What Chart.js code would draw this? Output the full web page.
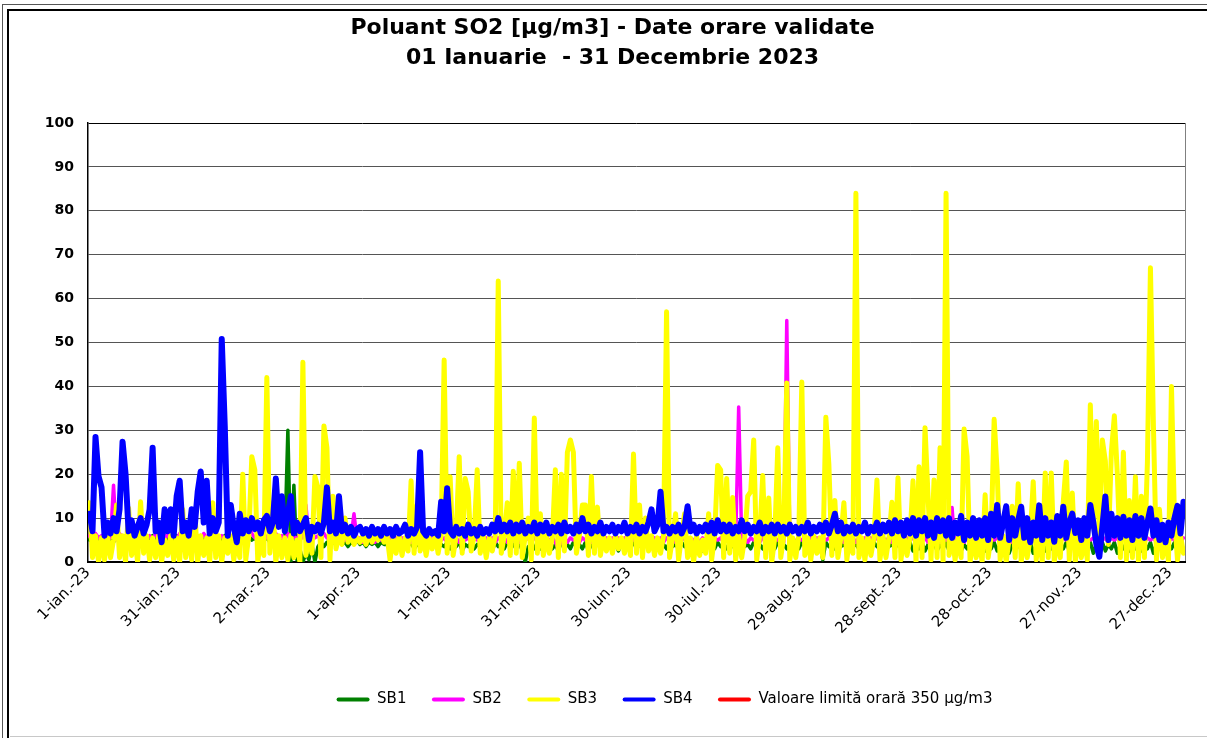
<!DOCTYPE html>
<html><head><meta charset="utf-8">
<script src="https://cdn.jsdelivr.net/npm/chart.js@4/dist/chart.umd.min.js"></script>
<style>
html,body{margin:0;padding:0;background:#fff;overflow:hidden;width:1207px;height:738px;}
#f1{position:absolute;left:2px;top:4px;width:1205px;height:734px;border-left:1px solid #555;border-top:1px solid #555;}
#f2{position:absolute;left:7px;top:9px;width:1200px;height:729px;border-left:2px solid #000;border-top:2px solid #000;}
#fb{position:absolute;left:10px;top:736px;width:1197px;height:1px;background:#c8c8c8;}
#wrap{position:absolute;left:0;top:0;width:1207px;height:738px;}
</style></head><body>
<div id="f1"></div><div id="f2"></div><div id="fb"></div>
<div id="wrap"><canvas id="c"></canvas></div>
<script>
// ---- tick labels (x axis: day of year -> label) ----
const xTickDays = [0,30,60,90,120,150,180,210,240,270,300,330,360];
const xTickLabels = ['1-ian.-23','31-ian.-23','2-mar.-23','1-apr.-23','1-mai-23','31-mai-23','30-iun.-23','30-iul.-23','29-aug.-23','28-sept.-23','28-oct.-23','27-nov.-23','27-dec.-23'];
const yTicks = [0,10,20,30,40,50,60,70,80,90,100];
const seriesNames = ['SB1','SB2','SB3','SB4','Valoare limită orară 350 µg/m3'];
const limitValue = 350;

// ---- daily values (day 0 = 1 Jan) ----
const sb1 = [
5,6,5,5.5,4.5,6,5,5.5,4.5,6,
5,5.5,4.5,6,5,5.5,4.5,6,5,5.5,
4.5,6,5,5.5,4.5,6,5,5.5,4.5,6,
5,5.5,4.5,6,5,5.5,4.5,6,5,5.5,
4.5,6,5,5.5,4.5,6,5,5.5,4.5,6,
5,5.5,4.5,6,5,5.5,4.5,6,5,5.5,
4.5,6,5,5.5,4.5,5,30,0,17.5,0.5,
3,0,2,0.5,4,0,3.5,4.5,3.5,4.5,
4,4.5,4,5,4,4.5,3.5,4.5,4,5,
4,4.5,3.5,4.5,4,4.5,3.5,4.5,4,4,
3,4.5,3.5,4.5,3,4,3.5,4.5,3,4,
3.5,4.5,3,4,3.5,4.5,3,4,3.5,4.5,
3,4,3.5,4.5,2.5,4,3.5,4.5,3,4,
3.5,4.5,3,4,2.5,4.5,3.5,4,3,4.5,
3.5,4,3,4.5,2.5,0,3.5,4,3,4.5,
3,4,3.5,4.5,3,4,2.5,4.5,3.5,4,
3,4.5,3.5,4,3,4.5,2.5,4,3.5,4.5,
3,4,3.5,4.5,3,4,2.5,4.5,3.5,4,
3,4.5,3.5,4,3,4.5,3.5,4,3,4.5,
3.5,4,3,4.5,3.5,4,3,4.5,3.5,4,
3,4.5,3.5,4,2.5,4.5,3.5,4,3,4.5,
3.5,4,3,4.5,3.5,4,3,4.5,3.5,4,
3,4.5,3.5,4,3,4.5,3.5,4,3,4.5,
3.5,4,3,4.5,3.5,4,3,4.5,3.5,4,
3,4.5,3.5,4,0.5,4.5,3.5,4,3,4.5,
3.5,4,3,4.5,3.5,4,3,4.5,3.5,4,
3,4.5,3.5,4,3,4.5,3.5,4,3,4.5,
3.5,4,3,4.5,2.5,4,3,4.5,2.5,4,
3,4.5,2.5,4,3,4.5,2.5,4,3,4.5,
2.5,4,3,4.5,2,4,3,4.5,2.5,4,
3,4.5,2.5,4,3,4.5,2,4,3,4.5,
2.5,4,3,4.5,2,4,3,4.5,2.5,4,
3,4.5,2,4,3,4.5,2.5,4,3,4.5,
2.5,4,3,4.5,2,4,1.5,4.5,2.5,4,
3,4.5,2,4,3,4.5,2.5,4,3,4.5,
2.5,4,3,4.5,2,4,3,4.5,2.5,4,
3,4.5,2.5,4,3];

const sb2 = [
6,5,6.5,5.5,6,5,6.5,5.5,17.5,5,
6.5,5.5,6,5,6.5,5.5,6,5,6.5,5.5,
6,5,6.5,5.5,6,5,6.5,5.5,6,5,
6.5,5.5,6,5,6.5,5.5,6,5,6.5,5.5,
6,5,6.5,5.5,6,5,6.5,5.5,6,5,
6.5,5.5,6,10.5,6.5,5.5,6,5,6.5,5.5,
6,5,6.5,5.5,6,5,6.5,5.5,6,5,
6.5,5.5,13,5,6.5,5.5,6,5,6.5,5.5,
6,5,6.5,5.5,6,5,6.5,5.5,11,5,
5.5,4.5,5.5,5,5.5,4.5,5.5,5,5.5,4.5,
5.5,5,5.5,4.5,5.5,5,5.5,4.5,5.5,5,
5.5,4.5,5.5,5,5.5,4.5,5.5,5,5.5,4.5,
5.5,5,5.5,4.5,5.5,5,5.5,4.5,5.5,5,
5.5,4.5,5.5,5,5.5,4.5,5.5,5,5.5,4.5,
5.5,5,5.5,4.5,5.5,5,5.5,4.5,5.5,5,
5.5,4.5,5.5,5,5.5,4.5,3,5,5.5,4.5,
5.5,5,5.5,4.5,5.5,5,5.5,4.5,5.5,5,
5.5,4.5,5.5,5,5.5,4.5,5.5,5,5.5,4.5,
5.5,5,5.5,4.5,5.5,5,5.5,4.5,5.5,5,
5.5,4.5,5.5,5,5.5,4.5,5.5,5,5.5,4.5,
5.5,5,5.5,4.5,5.5,5,5.5,4.5,5.5,5,
5.5,4.5,5.5,5,5.5,4.5,35.3,5,5.5,4.5,
5.5,5,5.5,4.5,5.5,5,5.5,4.5,5.5,5,
5.5,4.5,55,5,5.5,4.5,5.5,5,5.5,4.5,
5.5,5,5.5,4.5,5.5,5,5.5,4.5,5.5,5,
5.5,4.5,5.5,5,5.5,4.5,5.5,5,5.5,4.5,
5.5,5,5.5,4.5,5.5,5,5.5,4.5,5.5,5,
5.5,4.5,5.5,5,5.5,4.5,5.5,5,5.5,4.5,
5.5,5,5.5,4.5,5.5,5,5.5,12.4,2.5,5,
5.5,4.5,5.5,5,5.5,4.5,5.5,5,5.5,4.5,
5.5,5,5.5,4.5,5.5,5,5.5,4.5,5.5,5,
5.5,4.5,5.5,5,5.5,4.5,5.5,5,5.5,4.5,
5.5,5,5.5,4.5,5.5,5,5.5,4.5,5.5,5,
5.5,4.5,5.5,5,5.5,4.5,5.5,5,5.5,4.5,
5.5,5,5.5,4.5,5.5,5,5.5,4.5,5.5,5,
5.5,4.5,5.5,5,5.5,4.5,5.5,5,5.5,4.5,
5.5,5,5.5,4.5,5.5];

const sb3 = [
13.5,1,6,0,5.5,0.5,6,1,5,13,
1,6,0,12.3,1.5,6,0,13.7,2,6,
0.5,5.5,1,6,0,5,1.5,6,0.5,5.5,
0,12,1,6,0.5,12,0,6,1.5,5.5,
0,13.5,1,6,0,5.5,2,6,0.5,5,
1,20,0.5,6,24,21,0,6,1.5,42,
2,13.5,0,6,1,5.5,0.5,6,1,5,
0,45.5,1.5,6,2,19.5,17,1,31,26,
0.5,15,3,6,4,10,4.5,6,4,5.5,
4.5,6,4,6.5,4.5,6,5,6.5,4.5,6,
0.5,5.5,2,6,1.5,5.5,2.5,18.5,2,13,
2.5,6,1.5,5.5,3,6,2,6,46,2,
19.4,1.5,6,24,2,19,16,2.5,6,21,
2,6,1,5.5,2.5,6,64,2,6,13.5,
1.5,20.7,2,22.5,1,6,10,0.5,32.8,2,
11,1.5,6,2,5.5,21,1,20,2.5,25,
27.8,25,2,6,13,13,1.5,19.5,2,12.5,
1.5,6,2.5,5.5,2,6,3,5.5,2,6,
1.5,24.6,2,13,1,10,2.5,6,1.5,5.5,
2,6,57,1,5.5,11,0.5,6,11,1,
5.5,0,6,1.5,5,2,11,0.5,6,22,
21,1,19,2,14.7,0.5,6,1,5.5,15,
16,27.8,0.5,6,19.7,1,14.6,0,5.5,26,
1,6,40.8,0.5,5.5,1,6,41,1.5,5.5,
0.5,6,2,5.5,1,33,22.3,1.5,14,1,
5.5,13.5,0.5,6,2,84,1,5.5,0.5,6,
1.5,5.5,18.7,0.5,6,1,5.5,13.6,1,19.2,
0.5,6,1.5,5.5,18.5,0,21.7,1,30.6,15,
0.5,18.7,1,26,0,84,1.5,6,0.5,5.5,
1,30.3,24,0,6,1,5.5,0,15.3,1,
6,32.5,20.6,0.5,6,0,5.5,12.7,1,17.8,
0,6,1,5.5,18.3,0.5,6,0,20.3,1,
20.3,0,6,1,13.7,22.8,0.5,15.7,0,6,
1,5.5,0.5,35.8,8,32,5,27.8,23,4,
25,33.3,19.8,1,25,0.5,14,1,19.4,0,
15,1,22.8,67,30.8,0.5,12,1,6,0,
40,10,0.5,6,2];

const sb4 = [
11,7,28.5,19.5,17,6,9,6.5,10,7,
12,27.4,20,7,9.5,6,8,10,6.5,8.5,
12,26,7,9,4.5,12,7,12,6,15,
18.5,7,9,6,12,8,16,20.6,9,18.5,
6.5,10,7,9,50.8,31,6,13,8,4.5,
11,6.5,9.5,7,10,7.5,9,6.5,9.5,10.5,
7,9,19,8,15,7,11,15,6.5,9,
7,8.5,10,5,8,7,8.5,6.5,9,17,
7,9,6.5,15,7,8.5,6.5,8,6,7.5,
8,6.5,7.5,6,8,6.5,7.5,6,8,6.5,
7.5,6,8,6.5,7,8.5,6,7.5,6.5,8,
25,7,6,7.5,6.5,7,6,13.7,7,16.8,
7,6,8,6.5,7.5,6,8.5,6.5,7.5,6,
8,6.5,7.5,6.5,8.5,7,10,7,8.5,7,
9,6.5,8.5,7,9,6.5,8,7,9,6.5,
8.5,7,9,6.5,8,7,8.5,6.5,9,7,
8,6.5,8.5,7,10,7,8.5,6.5,8,7,
9,6.5,8,7,8.5,6.5,8,7,9,6.5,
8,7,8.5,6.5,8,7,9,12,7,8.5,
16,7,8,6.5,8,7,8.5,6.5,8,12.7,
7,8.5,6.5,8,7,8.5,7,9,6.5,9.5,
7,8.5,7,8.5,6.5,8,7,9.5,7,8.5,
6.5,8,7,9,6.5,8,7,8.5,6.5,8.5,
7,8,6.5,8.5,7,8,6.5,8,7,9,
6.5,8,7,8.5,7,9,6.5,8.5,11,7,
9,6.5,8,7,8.5,6.5,8,7,9,6.5,
8,7,9,6.5,8.5,7,9,6.5,9.5,7,
9,6,9.5,6.5,10,6,9.5,7,10,6,
9,5.5,10,7,9.5,6,10,5.5,9,6.5,
10.5,5,9,6,10,5.5,9.5,6,10,5,
11,6,13,5.5,9,12.7,5,10,6,9.5,
12.6,5.5,10,4.5,9,6,12.9,5,10,6,
9,4.6,10.5,6,12.6,5.5,9,11,6.6,9.5,
5,10,6,13,9,4,1.2,8,14.9,5,
11,6,10,5.5,10.3,6,9.5,5,10.5,6,
10,5.5,9,12.2,6,9.5,5,8.5,4.5,9,
6,10,12.8,6.5,13.7];

const DAYS = 365;
const toPoints = arr => arr.map((v, i) => ({x: i + 0.5, y: v}));

// ---- layout constants ----
const FONT = "'DejaVu Sans', sans-serif";
const PAD = {left: 40, right: 22, top: 0, bottom: 21};
const PLOT_LEFT = 88, PLOT_TOP = 123, PLOT_BOTTOM = 562;
const LEGEND_SHIFT = 52;
const TITLE_FONT = 22, TITLE_LH = 30, TITLE_PAD_TOP = 13;

const legendShift = {
  id: 'legendShift',
  afterLayout(chart) {
    const lg = chart.legend;
    if (lg) { lg.left += LEGEND_SHIFT; lg.right += LEGEND_SHIFT; }
  }
};

new Chart(document.getElementById('c'), {
  type: 'line',
  data: {
    datasets: [
      {label: seriesNames[0], data: toPoints(sb1), borderColor: '#008000', backgroundColor: '#008000', borderWidth: 3.5, order: 4},
      {label: seriesNames[1], data: toPoints(sb2), borderColor: '#FF00FF', backgroundColor: '#FF00FF', borderWidth: 3.5, order: 3},
      {label: seriesNames[2], data: toPoints(sb3), borderColor: '#FFFF00', backgroundColor: '#FFFF00', borderWidth: 5, order: 2},
      {label: seriesNames[3], data: toPoints(sb4), borderColor: '#0000FF', backgroundColor: '#0000FF', borderWidth: 6, order: 1},
      {label: seriesNames[4], data: [{x: 0, y: limitValue}, {x: DAYS, y: limitValue}], borderColor: '#FF0000', backgroundColor: '#FF0000', borderWidth: 4, order: 5}
    ]
  },
  options: {
    responsive: true,
    maintainAspectRatio: false,
    animation: false,
    events: [],
    layout: {padding: PAD},
    elements: {point: {radius: 0}, line: {tension: 0, borderJoinStyle: 'round', borderCapStyle: 'round'}},
    plugins: {
      tooltip: {enabled: false},
      title: {
        display: true,
        text: ['Poluant SO2 [µg/m3] - Date orare validate', '01 Ianuarie  - 31 Decembrie 2023'],
        color: '#000',
        font: {family: FONT, size: TITLE_FONT, weight: 'bold', lineHeight: TITLE_LH / TITLE_FONT},
        padding: {top: TITLE_PAD_TOP, bottom: PLOT_TOP - TITLE_PAD_TOP - 2 * TITLE_LH}
      },
      legend: {
        position: 'bottom',
        labels: {
          color: '#000',
          font: {family: FONT, size: 15},
          boxWidth: 33,
          boxHeight: 4,
          padding: 25.5,
          useBorderRadius: true,
          borderRadius: 2,
          sort: (a, b) => a.datasetIndex - b.datasetIndex,
          generateLabels: chart => Chart.defaults.plugins.legend.labels.generateLabels(chart)
            .map(l => Object.assign(l, {lineWidth: 0, strokeStyle: 'rgba(0,0,0,0)'}))
        }
      }
    },
    scales: {
      x: {
        type: 'linear',
        min: 0,
        max: DAYS,
        afterBuildTicks: s => { s.ticks = xTickDays.map(v => ({value: v})).concat([{value: DAYS}]); },
        afterFit: s => { s.height = 738 - PLOT_BOTTOM - s.chart.legend.height - PAD.bottom; },
        ticks: {
          autoSkip: false,
          minRotation: 45,
          maxRotation: 45,
          padding: 2,
          color: '#000',
          font: {family: FONT, size: 15},
          callback: v => { const i = xTickDays.indexOf(v); return i >= 0 ? xTickLabels[i] : ''; }
        },
        grid: {drawTicks: false, color: c => (c.tick && c.tick.value === DAYS) ? '#808080' : 'rgba(0,0,0,0)', lineWidth: 1},
        border: {display: true, color: '#000', width: 2}
      },
      y: {
        min: 0,
        max: 100,
        afterBuildTicks: s => { s.ticks = yTicks.map(v => ({value: v})); },
        afterFit: s => { s.width = PLOT_LEFT - PAD.left; },
        ticks: {
          color: '#000',
          padding: 14,
          font: {family: FONT, size: 14, weight: 'bold'}
        },
        grid: {drawTicks: false, color: c => c.tick.value === 100 ? '#000' : '#555', lineWidth: 1},
        border: {display: true, color: '#000', width: 1.5}
      }
    }
  },
  plugins: [legendShift]
});
</script>
</body></html>
